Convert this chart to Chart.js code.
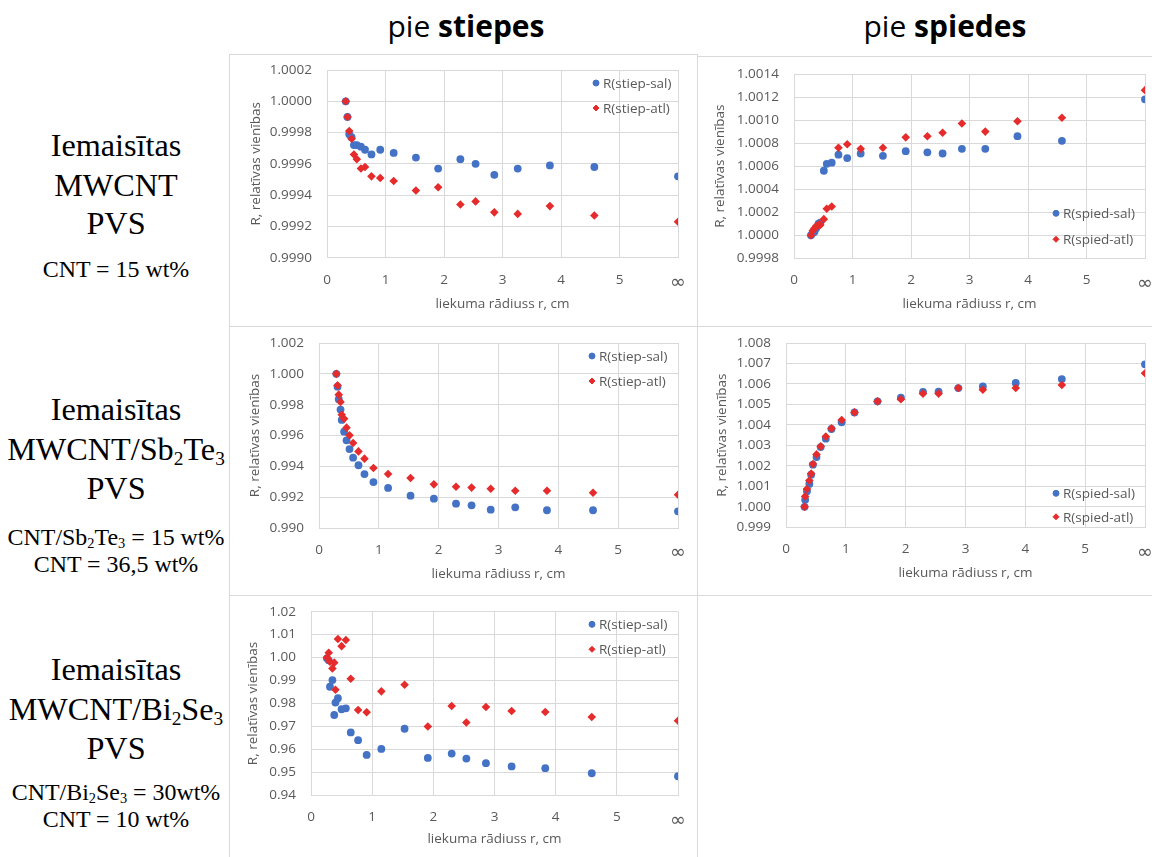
<!DOCTYPE html>
<html>
<head>
<meta charset="utf-8">
<script src="https://cdn.jsdelivr.net/npm/chart.js@4.4.0/dist/chart.umd.min.js"></script>
<style>
  body { margin: 0; width: 1152px; height: 857px; overflow: hidden; background: #fff; position: relative; font-family: "Open Sans", sans-serif; }
  .panel { position: absolute; border: 1px solid #d9d9d9; box-sizing: border-box; overflow: hidden; background: #fff; }
  .panel canvas { position: absolute; left: 0; top: 0; }
  .head { position: absolute; top: 5px; width: 300px; text-align: center; font-size: 30px; color: #000; white-space: nowrap; }
  .lab { position: absolute; left: 2px; width: 228px; text-align: center; font-family: "Liberation Serif", serif; color: #000; white-space: nowrap; transform: scaleX(1.04); }
  .big { font-size: 31px; height: 36px; line-height: 36px; }
  .small { font-size: 23px; height: 26px; line-height: 26px; }
  .lab sub { font-size: 0.6em; vertical-align: -0.25em; line-height: 0; }
</style>
</head>
<body>

<div class="head" style="left:316px">pie <b>stiepes</b></div>
<div class="head" style="left:795px">pie <b>spiedes</b></div>

<div class="lab big" style="top:128px">Iemaisītas</div>
<div class="lab big" style="top:168px">MWCNT</div>
<div class="lab big" style="top:206px">PVS</div>
<div class="lab small" style="top:257px">CNT = 15 wt%</div>

<div class="lab big" style="top:392px">Iemaisītas</div>
<div class="lab big" style="top:432px">MWCNT/Sb<sub>2</sub>Te<sub>3</sub></div>
<div class="lab big" style="top:471px">PVS</div>
<div class="lab small" style="top:525px">CNT/Sb<sub>2</sub>Te<sub>3</sub> = 15 wt%</div>
<div class="lab small" style="top:552px">CNT = 36,5 wt%</div>

<div class="lab big" style="top:652px">Iemaisītas</div>
<div class="lab big" style="top:692px">MWCNT/Bi<sub>2</sub>Se<sub>3</sub></div>
<div class="lab big" style="top:731px">PVS</div>
<div class="lab small" style="top:780px">CNT/Bi<sub>2</sub>Se<sub>3</sub> = 30wt%</div>
<div class="lab small" style="top:807px">CNT = 10 wt%</div>

<div class="panel" style="left:229px;top:54px;width:469px;height:273px"><canvas id="c1" width="467" height="271"></canvas></div>
<div class="panel" style="left:697px;top:56px;width:470px;height:271px"><canvas id="c2" width="468" height="269"></canvas></div>
<div class="panel" style="left:229px;top:326px;width:469px;height:270px"><canvas id="c3" width="467" height="268"></canvas></div>
<div class="panel" style="left:697px;top:326px;width:470px;height:270px"><canvas id="c4" width="468" height="268"></canvas></div>
<div class="panel" style="left:229px;top:595px;width:469px;height:270px"><canvas id="c5" width="467" height="268"></canvas></div>

<script>
  // bending radius r, cm (6 = no bending, shown as ∞)
  var xTickLabels = ["0", "1", "2", "3", "4", "5", "∞"];

  // MWCNT, stiepe
  var rStiepMw = [0.32, 0.35, 0.38, 0.42, 0.46, 0.51, 0.58, 0.65, 0.76, 0.91, 1.14, 1.52, 1.90, 2.28, 2.54, 2.86, 3.26, 3.81, 4.57, 6];
  var stiepSalMw = [1.0000, 0.99990, 0.99979, 0.99977, 0.99972, 0.99972, 0.99971, 0.99969, 0.99966, 0.99969, 0.99967, 0.99964, 0.99957, 0.99963, 0.99960, 0.99953, 0.99957, 0.99959, 0.99958, 0.99952];
  var stiepAtlMw = [1.0000, 0.99990, 0.99981, 0.99976, 0.99966, 0.99963, 0.99957, 0.99958, 0.99952, 0.99951, 0.99949, 0.99943, 0.99945, 0.99934, 0.99936, 0.99929, 0.99928, 0.99933, 0.99927, 0.99923];

  // MWCNT, spiede
  var rSpiedMw = [0.29, 0.32, 0.35, 0.38, 0.42, 0.45, 0.51, 0.56, 0.645, 0.76, 0.91, 1.14, 1.52, 1.91, 2.28, 2.54, 2.87, 3.27, 3.82, 4.58, 6];
  var spiedSalMw = [1.0000, 1.00002, 1.00003, 1.00006, 1.00010, 1.00011, 1.00056, 1.00062, 1.00063, 1.00070, 1.00067, 1.00071, 1.00069, 1.00073, 1.00072, 1.00071, 1.00075, 1.00075, 1.00086, 1.00082, 1.00118];
  var spiedAtlMw = [1.0000, 1.00004, 1.00006, 1.00008, 1.00009, 1.00009, 1.00014, 1.00023, 1.00025, 1.00076, 1.00079, 1.00075, 1.00076, 1.00085, 1.00086, 1.00089, 1.00097, 1.00090, 1.00099, 1.00102, 1.00126];

  // MWCNT/Sb2Te3, stiepe
  var rStiepSb = [0.29, 0.31, 0.33, 0.36, 0.38, 0.42, 0.46, 0.51, 0.57, 0.66, 0.76, 0.91, 1.155, 1.53, 1.92, 2.29, 2.55, 2.87, 3.28, 3.81, 4.58, 6];
  var stiepSalSb = [1.0000, 0.99917, 0.99835, 0.99768, 0.99701, 0.99625, 0.99569, 0.99512, 0.99456, 0.99407, 0.99350, 0.99298, 0.99260, 0.99210, 0.99190, 0.99158, 0.99147, 0.99119, 0.99134, 0.99115, 0.99115, 0.99108];
  var stiepAtlSb = [1.0000, 0.99925, 0.99865, 0.99817, 0.99735, 0.99709, 0.99651, 0.99601, 0.99551, 0.99497, 0.99450, 0.99389, 0.99350, 0.99324, 0.99283, 0.99268, 0.99262, 0.99255, 0.99242, 0.99242, 0.99229, 0.99216];

  // MWCNT/Sb2Te3, spiede
  var rSpiedSb = [0.31, 0.32, 0.35, 0.39, 0.42, 0.45, 0.51, 0.58, 0.665, 0.76, 0.93, 1.145, 1.53, 1.92, 2.29, 2.55, 2.88, 3.29, 3.84, 4.61, 6];
  var spiedSalSb = [1.0000, 1.00035, 1.00076, 1.00112, 1.00157, 1.00206, 1.00243, 1.00292, 1.00333, 1.00380, 1.00413, 1.00461, 1.00515, 1.00533, 1.00561, 1.00562, 1.00580, 1.00588, 1.00605, 1.00624, 1.00696];
  var spiedAtlSb = [1.0000, 1.00051, 1.00087, 1.00128, 1.00162, 1.00209, 1.00256, 1.00295, 1.00343, 1.00383, 1.00424, 1.00461, 1.00515, 1.00525, 1.00553, 1.00553, 1.00580, 1.00572, 1.00580, 1.00595, 1.00652];

  // MWCNT/Bi2Se3, stiepe
  var rStiepBi = [0.26, 0.29, 0.31, 0.35, 0.38, 0.40, 0.44, 0.50, 0.57, 0.65, 0.77, 0.91, 1.15, 1.53, 1.91, 2.30, 2.54, 2.86, 3.28, 3.83, 4.59, 6];
  var stiepSalBi = [0.9997, 0.9988, 0.9873, 0.9902, 0.9750, 0.9804, 0.9823, 0.9775, 0.9779, 0.9674, 0.9640, 0.9576, 0.9602, 0.9690, 0.9563, 0.9582, 0.9560, 0.9540, 0.9526, 0.9518, 0.9496, 0.9483];
  var stiepAtlBi = [1.0000, 1.0021, 0.9982, 0.9953, 0.9978, 0.9860, 1.0081, 1.0050, 1.0077, 0.9908, 0.9772, 0.9762, 0.9853, 0.9882, 0.9700, 0.9789, 0.9717, 0.9785, 0.9767, 0.9763, 0.9741, 0.9725];

  var BLUE = "#4472C4";
  var RED = "#E52B2B";
  var GRID = "#d9d9d9";
  var TXT = "#595959";
  var FONT = "'Open Sans', sans-serif";

  function pts(xs, ys) {
    return xs.map(function (x, i) { return { x: x, y: ys[i] }; });
  }

  // legend drawn inside the plot area, like the Excel original
  var innerLegend = {
    id: "innerLegend",
    afterDraw: function (chart, args, o) {
      var ctx = chart.ctx, a = chart.chartArea;
      ctx.save();
      ctx.font = "13.5px " + FONT;
      ctx.textBaseline = "middle";
      ctx.textAlign = "left";
      chart.data.datasets.forEach(function (ds, i) {
        var x = a.right - o.dx;
        var y = (o.anchor === "top" ? a.top + o.dy : a.bottom - o.dy) + i * o.gap;
        ctx.fillStyle = ds.backgroundColor;
        ctx.strokeStyle = ds.backgroundColor;
        Chart.helpers.drawPoint(ctx, { pointStyle: ds.pointStyle, radius: 3, borderWidth: 1, rotation: 0 }, x, y);
        ctx.fillStyle = TXT;
        ctx.fillText(ds.label, x + 7, y + 1);
      });
      ctx.restore();
    }
  };

  function makeChart(id, cfg) {
    var ctx = document.getElementById(id).getContext("2d");
    return new Chart(ctx, {
      type: "scatter",
      data: {
        datasets: [
          {
            label: cfg.labels[0],
            data: pts(cfg.x, cfg.sal),
            order: 1,
            pointStyle: "circle",
            pointRadius: 3.9,
            backgroundColor: BLUE,
            borderColor: BLUE,
            borderWidth: 0,
          },
          {
            label: cfg.labels[1],
            data: pts(cfg.x, cfg.atl),
            order: 0, // red drawn over blue, as in Excel
            pointStyle: "rectRot",
            pointRadius: 4.3,
            backgroundColor: RED,
            borderColor: RED,
            borderWidth: 0,
          },
        ],
      },
      plugins: [innerLegend],
      options: {
        responsive: false,
        animation: false,
        layout: { padding: { left: 0, top: cfg.top, right: cfg.right, bottom: 0 } },
        plugins: {
          legend: { display: false },
          tooltip: { enabled: false },
          innerLegend: cfg.legend,
        },
        scales: {
          x: {
            type: "linear",
            min: 0,
            max: 6,
            afterFit: function (s) { s.height = cfg.bottom; },
            grid: { color: GRID, drawTicks: true, tickLength: 14, tickColor: "rgba(0,0,0,0)" },
            border: { color: GRID },
            ticks: {
              stepSize: 1,
              padding: 0,
              color: TXT,
              font: function (c) {
                return c.tick && c.tick.value === 6
                  ? { family: "'DejaVu Sans'", size: 19 }
                  : { family: FONT, size: 13.5 };
              },
              callback: function (v) { return xTickLabels[v]; },
            },
            title: {
              display: true,
              text: "liekuma rādiuss r, cm",
              color: TXT,
              font: { family: FONT, size: 13.5 },
              padding: { top: 0, bottom: cfg.xTitlePad },
            },
          },
          y: {
            min: cfg.yMin,
            max: cfg.yMax,
            afterFit: function (s) { s.width = cfg.left; },
            grid: { color: GRID, drawTicks: true, tickLength: 15, tickColor: "rgba(0,0,0,0)" },
            border: { color: GRID },
            ticks: {
              stepSize: cfg.yStep,
              padding: 0,
              color: TXT,
              font: { family: FONT, size: 13.5 },
              callback: function (v) { return v.toFixed(cfg.dec); },
            },
            title: {
              display: true,
              text: "R, relatīvas vienības",
              color: TXT,
              font: { family: FONT, size: 13.5 },
              padding: { top: cfg.yTitlePad, bottom: 0 },
            },
          },
        },
      },
    });
  }

  makeChart("c1", {
    x: rStiepMw, sal: stiepSalMw, atl: stiepAtlMw,
    labels: ["R(stiep-sal)", "R(stiep-atl)"],
    yMin: 0.999, yMax: 1.0002, yStep: 0.0002, dec: 4,
    left: 97, top: 15, right: 19, bottom: 68.3,
    yTitlePad: 17.6, xTitlePad: 14,
    legend: { anchor: "top", dx: 82, dy: 13, gap: 25 },
  });

  makeChart("c2", {
    x: rSpiedMw, sal: spiedSalMw, atl: spiedAtlMw,
    labels: ["R(spied-sal)", "R(spied-atl)"],
    yMin: 0.9998, yMax: 1.0014, yStep: 0.0002, dec: 4,
    left: 96, top: 17, right: 21, bottom: 67.7,
    yTitlePad: 14.2, xTitlePad: 14,
    legend: { anchor: "bottom", dx: 89, dy: 45, gap: 26 },
  });

  makeChart("c3", {
    x: rStiepSb, sal: stiepSalSb, atl: stiepAtlSb,
    labels: ["R(stiep-sal)", "R(stiep-atl)"],
    yMin: 0.99, yMax: 1.002, yStep: 0.002, dec: 3,
    left: 89, top: 16, right: 19, bottom: 67,
    yTitlePad: 16.6, xTitlePad: 12.3,
    legend: { anchor: "top", dx: 86, dy: 13, gap: 25 },
  });

  makeChart("c4", {
    x: rSpiedSb, sal: spiedSalSb, atl: spiedAtlSb,
    labels: ["R(spied-sal)", "R(spied-atl)"],
    yMin: 0.999, yMax: 1.008, yStep: 0.001, dec: 3,
    left: 88, top: 16, right: 21, bottom: 67.7,
    yTitlePad: 15.9, xTitlePad: 14,
    legend: { anchor: "bottom", dx: 89, dy: 34, gap: 23.5 },
  });

  makeChart("c5", {
    x: rStiepBi, sal: stiepSalBi, atl: stiepAtlBi,
    labels: ["R(stiep-sal)", "R(stiep-atl)"],
    yMin: 0.94, yMax: 1.02, yStep: 0.01, dec: 2,
    left: 81, top: 15.7, right: 19, bottom: 68.7,
    yTitlePad: 14.9, xTitlePad: 16.6,
    legend: { anchor: "top", dx: 86, dy: 12.6, gap: 25 },
  });
</script>
</body>
</html>
